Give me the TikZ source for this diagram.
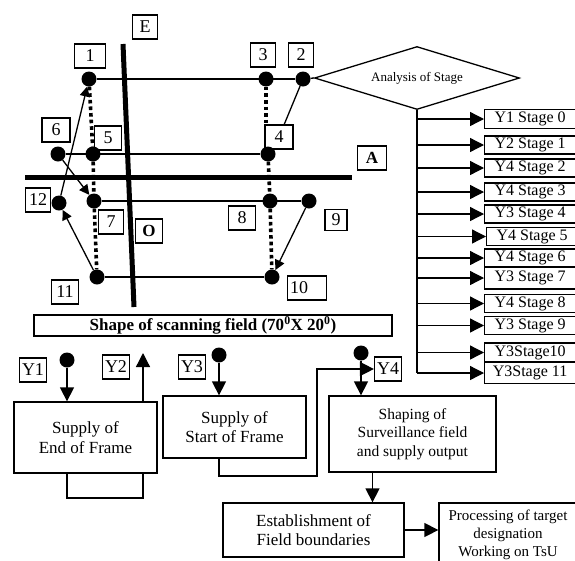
\documentclass[tikz,border=0pt]{standalone}
\usepackage{fontspec}
\setmainfont{Liberation Serif}
\usetikzlibrary{arrows.meta,shapes.geometric}
\tikzset{
  numbox/.style={draw,fill=white,line width=1.2pt,inner xsep=2.5pt,inner ysep=0pt,minimum width=25pt,minimum height=24pt,font=\fontsize{18}{20}\selectfont},
  pnt/.style={circle,fill=black,inner sep=0pt,minimum size=15pt},
  stagebox/.style={draw,line width=1.2pt,minimum width=91pt,minimum height=18pt,inner sep=0pt,anchor=west,font=\fontsize{16}{18}\selectfont},
  block/.style={draw,line width=1.3pt,align=center,inner sep=0pt,font=\fontsize{17}{19.5}\selectfont},
  lnk/.style={line width=1.3pt},
  dotline/.style={line width=3.6pt,dash pattern=on 3.6pt off 3pt},
  heavy/.style={line width=5pt},
  arr/.style={line width=1.3pt,-{Triangle[length=14pt,width=14pt]}},
  sarr/.style={line width=1.3pt,-{Triangle[length=10pt,width=10pt]}}
}
\begin{document}
\begin{tikzpicture}[x=1pt,y=-1pt]
  \useasboundingbox (0,0) rectangle (575,560);
  %labels
  \node[numbox] (lE) at (145,27) {E};
  \node[numbox,minimum width=31pt] (l1) at (90,56) {1};
  \node[numbox] (l3) at (263,55) {3};
  \node[numbox] (l2) at (301,55) {2};
  \node[numbox,minimum width=28pt] (l6) at (56,130) {6};
  \node[numbox,minimum width=27pt] (l5) at (108,138) {5};
  \node[numbox,minimum width=28pt] (l4) at (279,137) {4};
  \node[numbox,font=\fontsize{17}{19}\selectfont\bfseries,minimum width=29pt] (lA) at (372,158) {A};
  \node[numbox] (l12) at (38,200) {12};
  \node[numbox] (l7) at (111,222) {7};
  \node[numbox,minimum width=27pt] (l8) at (242,218) {8};
  \node[numbox,minimum width=22pt,minimum height=21pt] (l9) at (336,220) {9};
  \node[numbox,font=\fontsize{17}{19}\selectfont\bfseries,minimum width=27pt] (lO) at (149,231) {O};
  \node[numbox,minimum width=27pt] (l11) at (65,292) {11};
  \node[numbox,text width=34pt,align=left] (l10) at (307,288) {10};
  %points
  \node[pnt] (d1) at (89,79) {};
  \node[pnt] (d3) at (266,79) {};
  \node[pnt] (d2) at (303,79) {};
  \node[pnt] (d6) at (58,154) {};
  \node[pnt] (d5) at (93,154) {};
  \node[pnt] (d4) at (268,154) {};
  \node[pnt] (d12) at (59,203) {};
  \node[pnt] (d7) at (94,201) {};
  \node[pnt] (d8) at (270,201) {};
  \node[pnt] (d9) at (309,201) {};
  \node[pnt] (d11) at (97,277) {};
  \node[pnt] (d10) at (272,277) {};
  %analysis
  \node[diamond,draw,lnk,minimum width=205pt,minimum height=63pt,aspect=3.25,inner sep=0pt,font=\fontsize{13}{15}\selectfont] (dia) at (417,78) {Analysis of Stage};
  %scanning field
  \draw[lnk] (d1) -- (d2);
  \draw[lnk] (d2) -- (dia.west);
  \draw[lnk] (d2) -- (l4);
  \draw[lnk] (d6) -- (d4);
  \draw[lnk] (d7) -- (d9);
  \draw[lnk] (d11) -- (d10);
  \draw[dotline] (d1) -- (d5);
  \draw[dotline] (d5) -- (d7);
  \draw[dotline] (d7) -- (d11);
  \draw[dotline] (d3) -- (d3 |- l4.north);
  \draw[dotline] (d4) -- (d8);
  \draw[dotline] (d8) -- (d10);
  \draw[sarr] (d12) -- (d1);
  \draw[sarr] (d6) -- (d7);
  \draw[sarr] (d9) -- (d10);
  \draw[sarr] (d11) -- (d12);
  \draw[heavy] (123,44) -- (134,307);
  \draw[heavy] (25,177) -- (352,177);
  \node[block,minimum width=358pt,minimum height=21pt,font=\fontsize{17}{19}\selectfont\bfseries] (scan) at (213,325.5) {Shape of scanning field (70\textsuperscript{0}X 20\textsuperscript{0})};
  %stages
  \node[stagebox,minimum height=19pt] (s0) at (484,119) {Y1 Stage 0};
  \node[stagebox] (s1) at (484,145) {Y2 Stage 1};
  \node[stagebox] (s2) at (484,168) {Y4 Stage 2};
  \node[stagebox] (s3) at (484,192) {Y4 Stage 3};
  \node[stagebox] (s4) at (484,214) {Y3 Stage 4};
  \node[stagebox] (s5) at (486,236.5) {Y4 Stage 5};
  \node[stagebox] (s6) at (484,258) {Y4 Stage 6};
  \node[stagebox,minimum height=22pt] (s7) at (484,278) {Y3 Stage 7};
  \node[stagebox] (s8) at (484,303.5) {Y4 Stage 8};
  \node[stagebox] (s9) at (484,325.5) {Y3 Stage 9};
  \node[stagebox,minimum height=19pt] (s10) at (484,352.5) {Y3Stage10};
  \node[stagebox,minimum height=21pt] (s11) at (484,373) {Y3Stage 11};
  \coordinate (tr) at (417,373);
  \draw[lnk] (dia.south) -- (tr);
  \draw[arr] (tr |- s0.west) -- (s0.west);
  \draw[arr] (tr |- s1.west) -- (s1.west);
  \draw[arr] (tr |- s2.west) -- (s2.west);
  \draw[arr] (tr |- s3.west) -- (s3.west);
  \draw[arr] (tr |- s4.west) -- (s4.west);
  \draw[arr] (tr |- s5.west) -- (s5.west);
  \draw[arr] (tr |- s6.west) -- (s6.west);
  \draw[arr] (tr |- s7.west) -- (s7.west);
  \draw[arr] (tr |- s8.west) -- (s8.west);
  \draw[arr] (tr |- s9.west) -- (s9.west);
  \draw[arr] (tr |- s10.west) -- (s10.west);
  \draw[arr] (tr) -- (s11.west);
  %blocks
  \node[block,minimum width=143pt,minimum height=71pt] (eof) at (85.5,437.5) {Supply of\\End of Frame};
  \node[block,minimum width=143pt,minimum height=62pt] (sof) at (234.5,427) {Supply of\\Start of Frame};
  \node[block,minimum width=167pt,minimum height=76pt,font=\fontsize{15.5}{18.5}\selectfont] (shp) at (412.5,434) {Shaping of\\Surveillance field\\and supply output};
  \node[block,minimum width=181pt,minimum height=54pt] (est) at (313.5,530) {Establishment of\\Field boundaries};
  \node[block,minimum width=138pt,minimum height=64pt,font=\fontsize{15}{18}\selectfont] (prc) at (508,535) {Processing of target\\designation\\Working on TsU};
  \node[numbox] (ly1) at (33,370) {Y1};
  \node[numbox] (ly2) at (116,367) {Y2};
  \node[numbox] (ly3) at (192,367) {Y3};
  \node[numbox] (ly4) at (388,369) {Y4};
  \node[pnt] (y1d) at (67,360) {};
  \node[pnt] (y3d) at (219,355) {};
  \node[pnt] (y4d) at (361,353) {};
  \coordinate (y2e) at (143,353);
  \coordinate (lp) at (143,498);
  \coordinate (c1) at (317,476);
  \draw[arr] (y1d) -- (y1d |- eof.north);
  \draw[arr] (eof.north -| y2e) -- (y2e);
  \draw[lnk] (eof.south -| y1d) |- (lp) -- (eof.south -| lp);
  \draw[arr] (y3d) -- (y3d |- sof.north);
  \draw[arr] (sof.south -| y3d) |- (c1) |- (ly4.west);
  \draw[arr] (y4d) -- (y4d |- shp.north);
  \draw[arr] ([xshift=-40pt]shp.south) -- ([xshift=-40pt]shp.south |- est.north);
  \draw[arr] (est.east) -- (est.east -| prc.west);
\end{tikzpicture}
\end{document}
